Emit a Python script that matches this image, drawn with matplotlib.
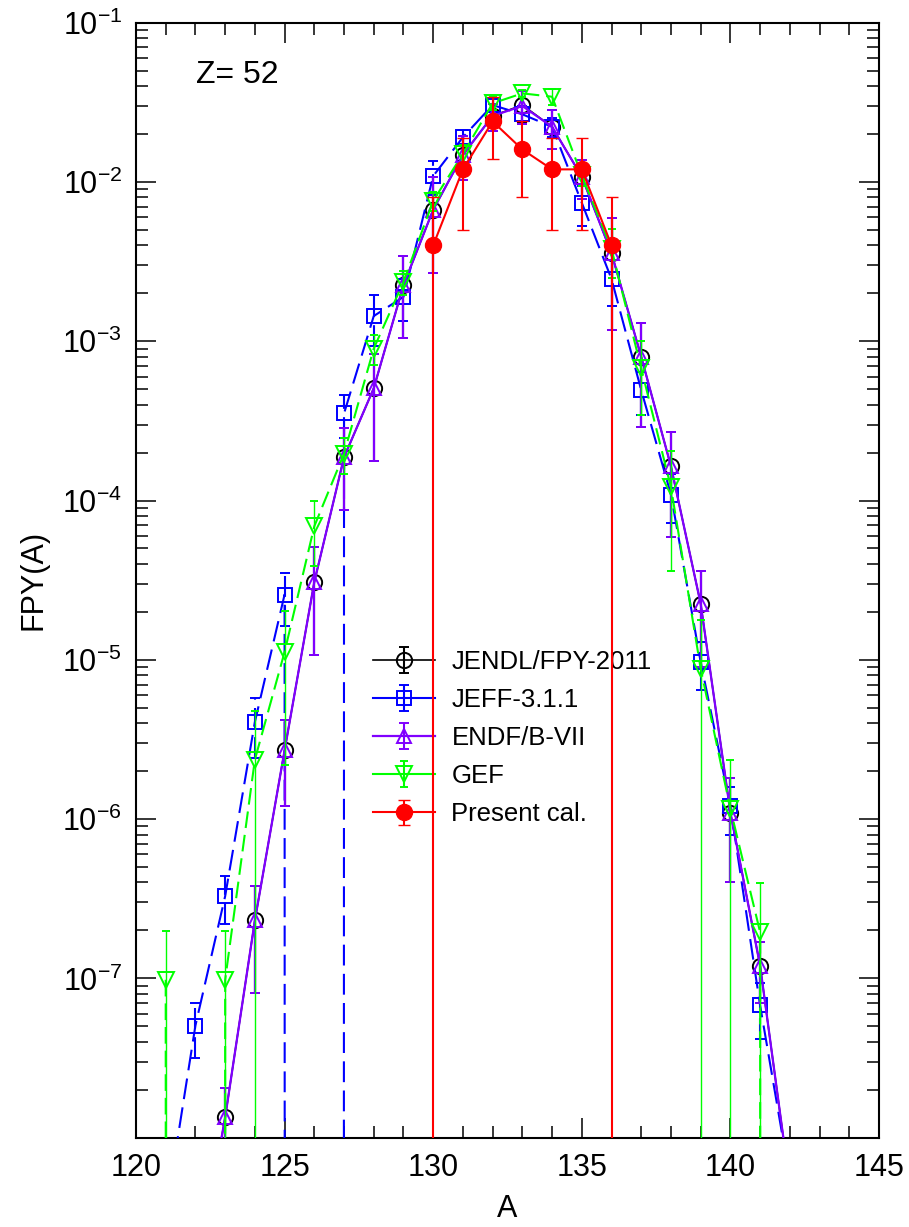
import numpy as np
import matplotlib
matplotlib.use('Agg')
import matplotlib.pyplot as plt
from matplotlib.lines import Line2D
from matplotlib.collections import LineCollection
from matplotlib.ticker import FixedLocator, FuncFormatter, NullFormatter

plt.rcParams['font.family'] = ['Liberation Sans', 'DejaVu Sans']
plt.rcParams['mathtext.fontset'] = 'custom'
plt.rcParams['mathtext.rm'] = 'Liberation Sans'
plt.rcParams['mathtext.it'] = 'Liberation Sans:italic'
plt.rcParams['mathtext.bf'] = 'Liberation Sans:bold'
plt.rcParams['lines.scale_dashes'] = False

# ---------------- data ----------------
A_jendl = [122, 123, 124, 125, 126, 127, 128, 129, 130, 131, 132, 133, 134, 135, 136, 137, 138, 139, 140, 141, 142]
jendl = [1.2e-9, 1.34e-8, 2.31e-7, 2.7e-6, 3.08e-5, 1.87e-4, 5.07e-4, 2.25e-3, 6.7e-3, 1.48e-2, 2.6e-2, 3.04e-2,
         2.22e-2, 1.08e-2, 3.57e-3, 7.98e-4, 1.64e-4, 2.25e-5, 1.1e-6, 1.2e-7, 5e-9]
jendl_err = [0, 0.7e-8, 1.5e-7, 1.5e-6, 2.0e-5, 1.0e-4, 3.3e-4, 1.2e-3, 4e-3, 4.5e-3, 5e-3, 7e-3,
             6e-3, 3e-3, 2.4e-3, 5.1e-4, 1.05e-4, 1.35e-5, 7e-7, 5e-8, 0]

A_endf = [122, 123, 124, 125, 126, 127, 128, 129, 130, 131, 132, 133, 134, 135, 136, 137, 138, 139, 140, 141, 142]
endf = [1.2e-9, 1.34e-8, 2.31e-7, 2.7e-6, 3.08e-5, 1.87e-4, 5.07e-4, 2.25e-3, 6.7e-3, 1.48e-2, 2.6e-2, 3.0e-2,
        2.22e-2, 1.08e-2, 3.57e-3, 7.98e-4, 1.64e-4, 2.25e-5, 1.1e-6, 1.2e-7, 5e-9]
endf_err = [0, 0.7e-8, 1.5e-7, 1.5e-6, 2.0e-5, 1.0e-4, 3.3e-4, 1.2e-3, 4e-3, 4.5e-3, 5e-3, 7e-3,
            6e-3, 3e-3, 2.4e-3, 5.1e-4, 1.05e-4, 1.35e-5, 7e-7, 5e-8, 0]

A_jeff = [121, 122, 123, 124, 125, 126, 127, 128, 129, 130, 131, 132, 133, 134, 135, 136, 137, 138, 139, 140, 141, 142]
jeff = [3.3e-9, 5.06e-8, 3.28e-7, 4.07e-6, 2.57e-5, 0.0, 3.52e-4, 1.44e-3, 1.9e-3, 1.09e-2, 1.91e-2, 3.04e-2,
        2.66e-2, 2.22e-2, 7.4e-3, 2.46e-3, 4.93e-4, 1.09e-4, 9.68e-6, 1.2e-6, 6.76e-8, 5.5e-9]
jeff_err = [0, 1.9e-8, 1.1e-7, 1.66e-6, 9.3e-6, 0, 1.06e-4, 5e-4, 5.5e-4, 2.6e-3, 2.1e-3, 3e-3,
            3.5e-3, 3e-3, 2.1e-3, 8e-4, 1.5e-4, 3.7e-5, 3.2e-6, 4e-7, 2.6e-8, 0]

A_gef = [121, 122, 123, 124, 125, 126, 127, 128, 129, 130, 131, 132, 133, 134, 135, 136, 137, 138, 139, 140, 141, 142]
gef = [9.8e-8, 0.0, 9.8e-8, 2.36e-6, 1.12e-5, 6.9e-5, 1.97e-4, 9.0e-4, 2.36e-3, 7.62e-3, 1.5e-2, 3.12e-2,
       3.6e-2, 3.43e-2, 1.1e-2, 3.8e-3, 6.75e-4, 1.21e-4, 8.8e-6, 1.16e-6, 1.95e-7, 0.0]
gef_err = [1e-7, 0, 1e-7, 2.4e-6, 9e-6, 3e-5, 5e-5, 1.9e-4, 4e-4, 1e-3, 2e-3, 3e-3,
           2e-3, 4e-3, 1.5e-3, 1.3e-3, 3.3e-4, 8.5e-5, 9e-6, 1.2e-6, 2e-7, 0]

A_pres = [130, 131, 132, 133, 134, 135, 136]
pres = [4e-3, 1.2e-2, 2.4e-2, 1.6e-2, 1.2e-2, 1.2e-2, 4e-3]
pres_err = [4e-3, 7e-3, 1e-2, 8e-3, 7e-3, 7e-3, 4e-3]

labels = ['JENDL/FPY-2011', 'JEFF-3.1.1', 'ENDF/B-VII', 'GEF', 'Present cal.']
x_ticks = [120, 125, 130, 135, 140, 145]
y_exponents = [-8, -7, -6, -5, -4, -3, -2, -1]

# ---------------- figure ----------------
fig = plt.figure(figsize=(9.09, 12.27), dpi=100)
ax = fig.add_axes([0.1496, 0.0728, 0.8174, 0.9087])
ax.set_yscale('log')

DASH_B = (0, (15, 6))
DASH_G = (0, (12, 5))
PURPLE = '#8000ff'

ax.errorbar(A_jendl, jendl, yerr=jendl_err, color='black', marker='o', ls='-', lw=1.2,
            ms=11, mfc='none', mec='black', mew=1.4, elinewidth=1.5, capsize=3.8, capthick=1.5,
            label=labels[0], zorder=2)
c = ax.errorbar(A_jeff, jeff, yerr=jeff_err, color='blue', marker='s', ls=DASH_B, lw=1.5,
                ms=9.5, mfc='none', mec='blue', mew=1.4, elinewidth=1.5, capsize=3.8, capthick=1.5,
                label=labels[1], zorder=3)
c[2][0].set_linestyle(DASH_B)
ax.errorbar(A_endf, endf, yerr=endf_err, color=PURPLE, marker='^', ls='-', lw=1.6,
            ms=10, mfc='none', mec=PURPLE, mew=1.4, elinewidth=1.6, capsize=3.8, capthick=1.6,
            label=labels[2], zorder=4)
ax.errorbar(A_gef, gef, yerr=gef_err, color='#00ff00', marker='v', ls=DASH_G, lw=1.5,
            ms=11, mfc='none', mec='#00ff00', mew=1.4, elinewidth=1.0, capsize=3.2, capthick=1.0,
            label=labels[3], zorder=5)
ax.errorbar(A_pres, pres, yerr=pres_err, color='red', marker='o', ls='-', lw=1.5,
            ms=11.5, mfc='red', mec='red', mew=1.0, elinewidth=1.5, capsize=4.3, capthick=1.5,
            label=labels[4], zorder=6)

ax.set_xlim(120, 145)
ax.set_ylim(1e-8, 1e-1)

ax.xaxis.set_major_locator(FixedLocator(x_ticks))
ax.xaxis.set_minor_locator(FixedLocator(np.arange(120, 146, 1)))
ax.yaxis.set_major_locator(FixedLocator([10.0 ** e for e in y_exponents]))
ax.yaxis.set_minor_locator(FixedLocator([m * 10.0 ** e for e in range(-8, -1) for m in range(2, 10)]))


def yfmt(v, pos):
    e = int(round(np.log10(v)))
    if e <= -8:
        return ''
    return r'$\mathregular{10^{%d}}$' % e


ax.yaxis.set_major_formatter(FuncFormatter(yfmt))
ax.yaxis.set_minor_formatter(NullFormatter())

ax.tick_params(which='both', direction='in', top=True, right=True, width=1.1, color='black')
ax.tick_params(which='major', length=14.4)
ax.tick_params(which='minor', length=8.6)
ax.tick_params(axis='x', which='major', labelsize=22, pad=11)
ax.tick_params(axis='y', which='major', labelsize=22, pad=10)
for s in ax.spines.values():
    s.set_linewidth(1.5)

ax.set_xlabel('A', fontsize=22, labelpad=8)
ax.set_ylabel('FPY(A)', fontsize=22, labelpad=10)

ax.text(0.081, 0.953, 'Z= 52', transform=ax.transAxes, fontsize=23, va='center', ha='left')

leg = ax.legend(loc='upper left', bbox_to_anchor=(0.319, 0.4375), frameon=False, fontsize=18.5,
                handlelength=2.4, handletextpad=0.65, labelspacing=0.55, borderpad=0, borderaxespad=0)
# legend sample lines are drawn solid in the reference
for ln in leg.findobj(Line2D):
    if ln.get_linestyle() not in ('None', '', ' ', '-'):
        ln.set_linestyle('-')
for lc in leg.findobj(LineCollection):
    lc.set_linestyle('-')

fig.savefig('out.png', dpi=100)
